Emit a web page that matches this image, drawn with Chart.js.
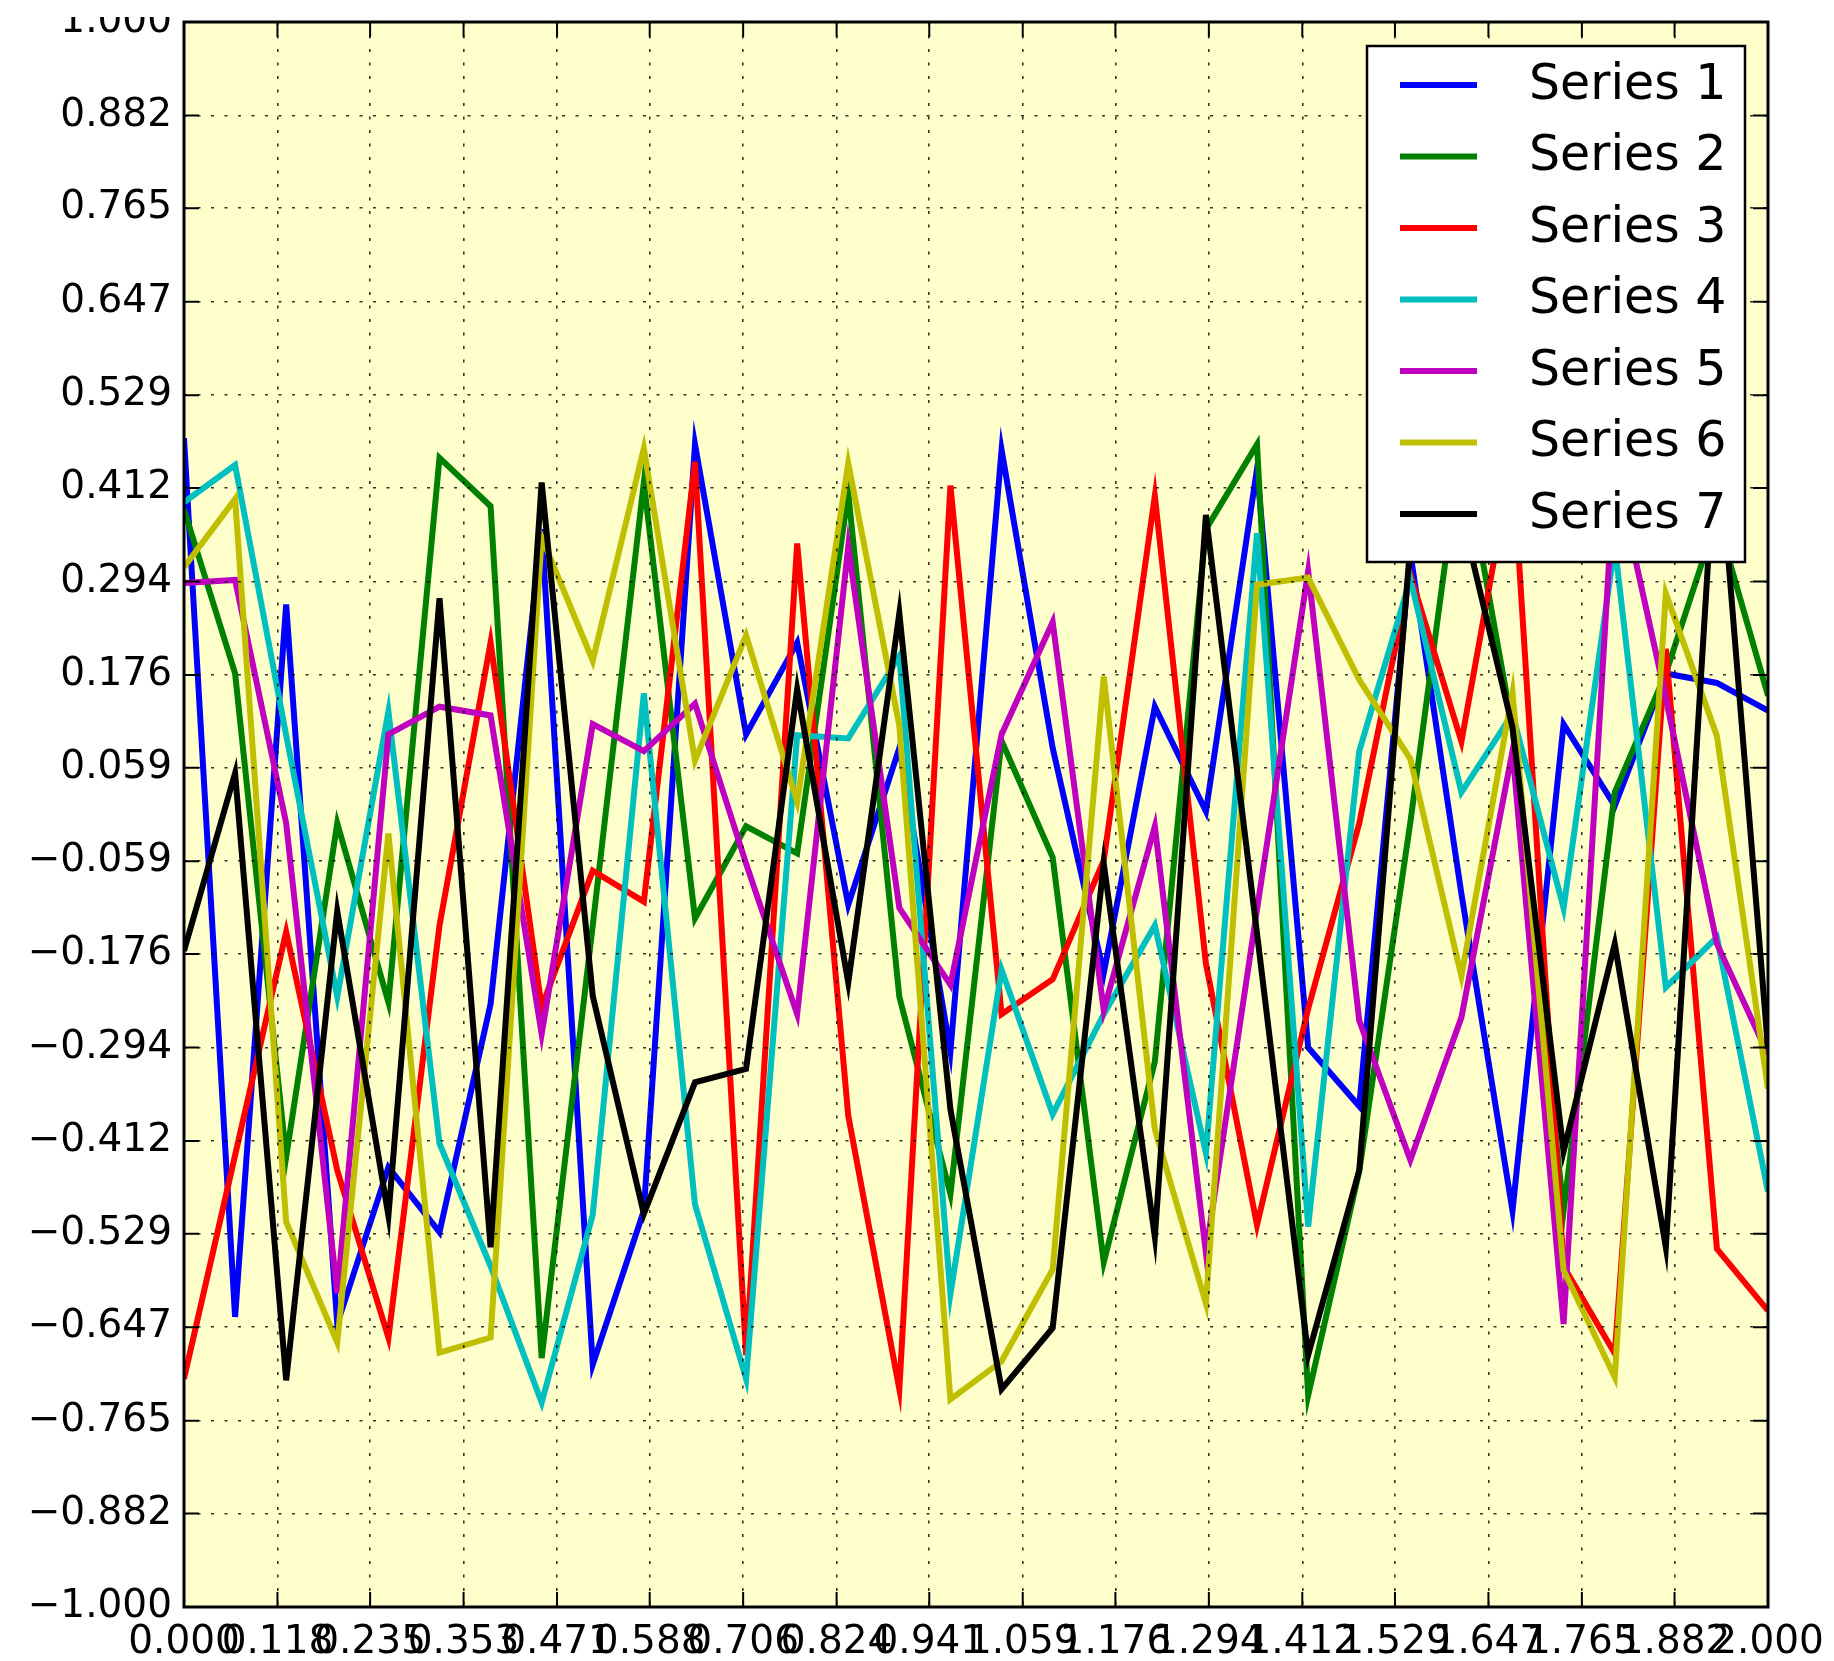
<!DOCTYPE html>
<html>
<head>
<meta charset="utf-8">
<title>Seven series</title>
<script src="https://cdn.jsdelivr.net/npm/chart.js@4.4.0/dist/chart.umd.min.js"></script>
<style>
    html, body { margin: 0; padding: 0; background: #fff; }
    #frame { position: absolute; left: 0; top: 17px; width: 1834px; height: 1644px; overflow: hidden; }
    #chart { position: absolute; left: 0; top: -17px; }
</style>
</head>
<body>
<div id="frame"><canvas id="chart" width="1834" height="1661"></canvas></div>
<script>
'use strict';

const xValues = [0, 0.0645, 0.1290, 0.1935, 0.2581, 0.3226, 0.3871, 0.4516, 0.5161, 0.5806,
    0.6452, 0.7097, 0.7742, 0.8387, 0.9032, 0.9677, 1.0323, 1.0968, 1.1613, 1.2258,
    1.2903, 1.3548, 1.4194, 1.4839, 1.5484, 1.6129, 1.6774, 1.7419, 1.8065, 1.8710,
    1.9355, 2.0];

const series1 = [0.475, -0.634, 0.265, -0.643, -0.445, -0.527, -0.239, 0.36, -0.694, -0.50,
    0.467, 0.101, 0.217, -0.114, 0.084, -0.299, 0.46, 0.084, -0.20, 0.136,
    0.004, 0.436, -0.294, -0.368, 0.33, -0.10, -0.50, 0.114, 0.011, 0.178,
    0.166, 0.131];
const series2 = [0.385, 0.178, -0.432, -0.011, -0.237, 0.45, 0.389, -0.686, -0.14, 0.419,
    -0.131, -0.015, -0.049, 0.406, -0.23, -0.479, 0.093, -0.054, -0.565, -0.312,
    0.36, 0.467, -0.733, -0.45, -0.01, 0.47, 0.11, -0.50, 0.028, 0.178,
    0.375, 0.15];
const series3 = [-0.712, -0.43, -0.148, -0.449, -0.66, -0.14, 0.217, -0.243, -0.071, -0.11,
    0.445, -0.682, 0.342, -0.38, -0.725, 0.415, -0.252, -0.208, -0.058, 0.402,
    -0.188, -0.518, -0.245, -0.011, 0.303, 0.092, 0.45, -0.57, -0.68, 0.209,
    -0.548, -0.626];
const series4 = [0.394, 0.441, 0.10, -0.23, 0.13, -0.415, -0.57, -0.742, -0.505, 0.153,
    -0.492, -0.712, 0.10, 0.096, 0.2, -0.605, -0.196, -0.378, -0.252, -0.14,
    -0.427, 0.355, -0.52, 0.08, 0.297, 0.028, 0.127, -0.118, 0.34, -0.218,
    -0.155, -0.476];
const series5 = [0.292, 0.296, -0.011, -0.604, 0.101, 0.136, 0.125, -0.277, 0.114, 0.08,
    0.14, -0.062, -0.252, 0.338, -0.118, -0.215, 0.101, 0.243, -0.247, -0.015,
    -0.553, -0.12, 0.307, -0.26, -0.436, -0.256, 0.08, -0.643, 0.44, 0.147,
    -0.163, -0.303];
const series6 = [0.312, 0.398, -0.514, -0.666, -0.024, -0.679, -0.66, 0.35, 0.194, 0.462,
    0.068, 0.226, 0.016, 0.443, 0.112, -0.738, -0.69, -0.574, 0.174, -0.397,
    -0.617, 0.29, 0.299, 0.17, 0.07, -0.204, 0.154, -0.575, -0.71, 0.279,
    0.099, -0.346];
const series7 = [-0.172, 0.052, -0.714, -0.122, -0.506, 0.273, -0.546, 0.419, -0.229, -0.504,
    -0.338, -0.321, 0.158, -0.212, 0.254, -0.372, -0.725, -0.648, -0.062, -0.533,
    0.378, -0.15, -0.682, -0.449, 0.34, 0.38, 0.11, -0.425, -0.163, -0.546,
    0.5, -0.295];

const seriesNames = ['Series 1', 'Series 2', 'Series 3', 'Series 4', 'Series 5', 'Series 6', 'Series 7'];
const seriesColors = ['#0000ff', '#008000', '#ff0000', '#00bfbf', '#bf00bf', '#bfbf00', '#000000'];

const xTickLabels = ['0.000', '0.118', '0.235', '0.353', '0.471', '0.588', '0.706', '0.824', '0.941',
    '1.059', '1.176', '1.294', '1.412', '1.529', '1.647', '1.765', '1.882', '2.000'];
const yTickLabels = ['-1.000', '-0.882', '-0.765', '-0.647', '-0.529', '-0.412', '-0.294', '-0.176', '-0.059',
    '0.059', '0.176', '0.294', '0.412', '0.529', '0.647', '0.765', '0.882', '1.000'];

const allSeries = [series1, series2, series3, series4, series5, series6, series7];
const plotBackground = '#ffffcc';
const tickLen = 15;

function minusSign(text) {
    return text.replace('-', '\u2212');
}

// background, inward ticks, frame and the legend box inside the plot
const plotDecor = {
    id: 'plotDecor',
    beforeDraw(chart) {
        const ctx = chart.ctx;
        const a = chart.chartArea;
        ctx.save();
        ctx.fillStyle = plotBackground;
        ctx.fillRect(a.left, a.top, a.right - a.left, a.bottom - a.top);
        ctx.restore();
    },
    afterDraw(chart) {
        const ctx = chart.ctx;
        const a = chart.chartArea;
        const xs = chart.scales.x;
        const ys = chart.scales.y;
        ctx.save();
        ctx.strokeStyle = '#000';
        ctx.lineWidth = 2;
        ctx.beginPath();
        for (let i = 0; i < xTickLabels.length; i++) {
            let px = xs.getPixelForValue(parseFloat(xTickLabels[i]));
            ctx.moveTo(px, a.bottom);
            ctx.lineTo(px, a.bottom - tickLen);
            ctx.moveTo(px, a.top);
            ctx.lineTo(px, a.top + tickLen);
        }
        for (let i = 0; i < yTickLabels.length; i++) {
            let py = ys.getPixelForValue(parseFloat(yTickLabels[i]));
            ctx.moveTo(a.left, py);
            ctx.lineTo(a.left + tickLen, py);
            ctx.moveTo(a.right, py);
            ctx.lineTo(a.right - tickLen, py);
        }
        ctx.stroke();

        ctx.lineWidth = 3;
        ctx.strokeRect(a.left, a.top, a.right - a.left, a.bottom - a.top);

        // legend
        const boxW = 378;
        const rowH = 71.5;
        const boxH = 39 + rowH * (seriesNames.length - 1) + 48;
        const left = a.right - 23 - boxW;
        const top = a.top + 24;
        ctx.fillStyle = '#fff';
        ctx.fillRect(left, top, boxW, boxH);
        ctx.lineWidth = 2.5;
        ctx.strokeRect(left, top, boxW, boxH);
        ctx.font = '49px "DejaVu Sans"';
        ctx.textBaseline = 'middle';
        ctx.textAlign = 'left';
        chart.data.datasets.forEach((ds, i) => {
            let y = top + 39 + rowH * i;
            ctx.strokeStyle = ds.borderColor;
            ctx.lineWidth = 6;
            ctx.beginPath();
            ctx.moveTo(left + 33, y);
            ctx.lineTo(left + 110, y);
            ctx.stroke();
            ctx.fillStyle = '#000';
            ctx.fillText(ds.label, left + 162, y + 1);
        });
        ctx.restore();
    }
};

const datasets = allSeries.map((s, i) => ({
    label: seriesNames[i],
    data: xValues.map((x, j) => ({ x: x, y: s[j] })),
    borderColor: seriesColors[i],
    backgroundColor: seriesColors[i],
    borderWidth: 6,
    pointRadius: 0,
    tension: 0,
    fill: false,
    order: allSeries.length - i,
}));

const tickFont = { family: 'DejaVu Sans', size: 39, lineHeight: 1 };

const config = {
    type: 'line',
    data: { datasets: datasets },
    plugins: [plotDecor],
    options: {
        responsive: false,
        animation: false,
        events: [],
        layout: { padding: { left: 0, top: 22, right: 66, bottom: 0 } },
        plugins: {
            legend: { display: false },
            tooltip: { enabled: false },
        },
        scales: {
            x: {
                type: 'linear',
                min: 0,
                max: 2,
                afterBuildTicks: (axis) => {
                    axis.ticks = xTickLabels.map(t => ({ value: parseFloat(t) }));
                },
                afterFit: (axis) => {
                    axis.height = 54;
                    axis.paddingLeft = 0;
                    axis.paddingRight = 0;
                },
                ticks: {
                    autoSkip: false,
                    maxRotation: 0,
                    minRotation: 0,
                    padding: 16,
                    color: '#000',
                    font: tickFont,
                    callback: (value) => value.toFixed(3),
                },
                grid: { color: 'rgba(0,0,0,0.8)', lineWidth: 1.6, drawTicks: false, z: 1 },
                border: { display: false, dash: [3, 10.5] },
            },
            y: {
                type: 'linear',
                min: -1,
                max: 1,
                afterBuildTicks: (axis) => {
                    axis.ticks = yTickLabels.map(t => ({ value: parseFloat(t) }));
                },
                afterFit: (axis) => {
                    axis.width = 184;
                    axis.paddingTop = 0;
                    axis.paddingBottom = 0;
                },
                ticks: {
                    autoSkip: false,
                    padding: 12,
                    color: '#000',
                    font: tickFont,
                    callback: (value) => minusSign(value.toFixed(3)),
                },
                grid: { color: 'rgba(0,0,0,0.8)', lineWidth: 1.6, drawTicks: false, z: 1 },
                border: { display: false, dash: [3, 10.5] },
            },
        },
    },
};

const chartCanvas = document.getElementById('chart');
const seriesChart = new Chart(chartCanvas, config);
</script>
</body>
</html>
